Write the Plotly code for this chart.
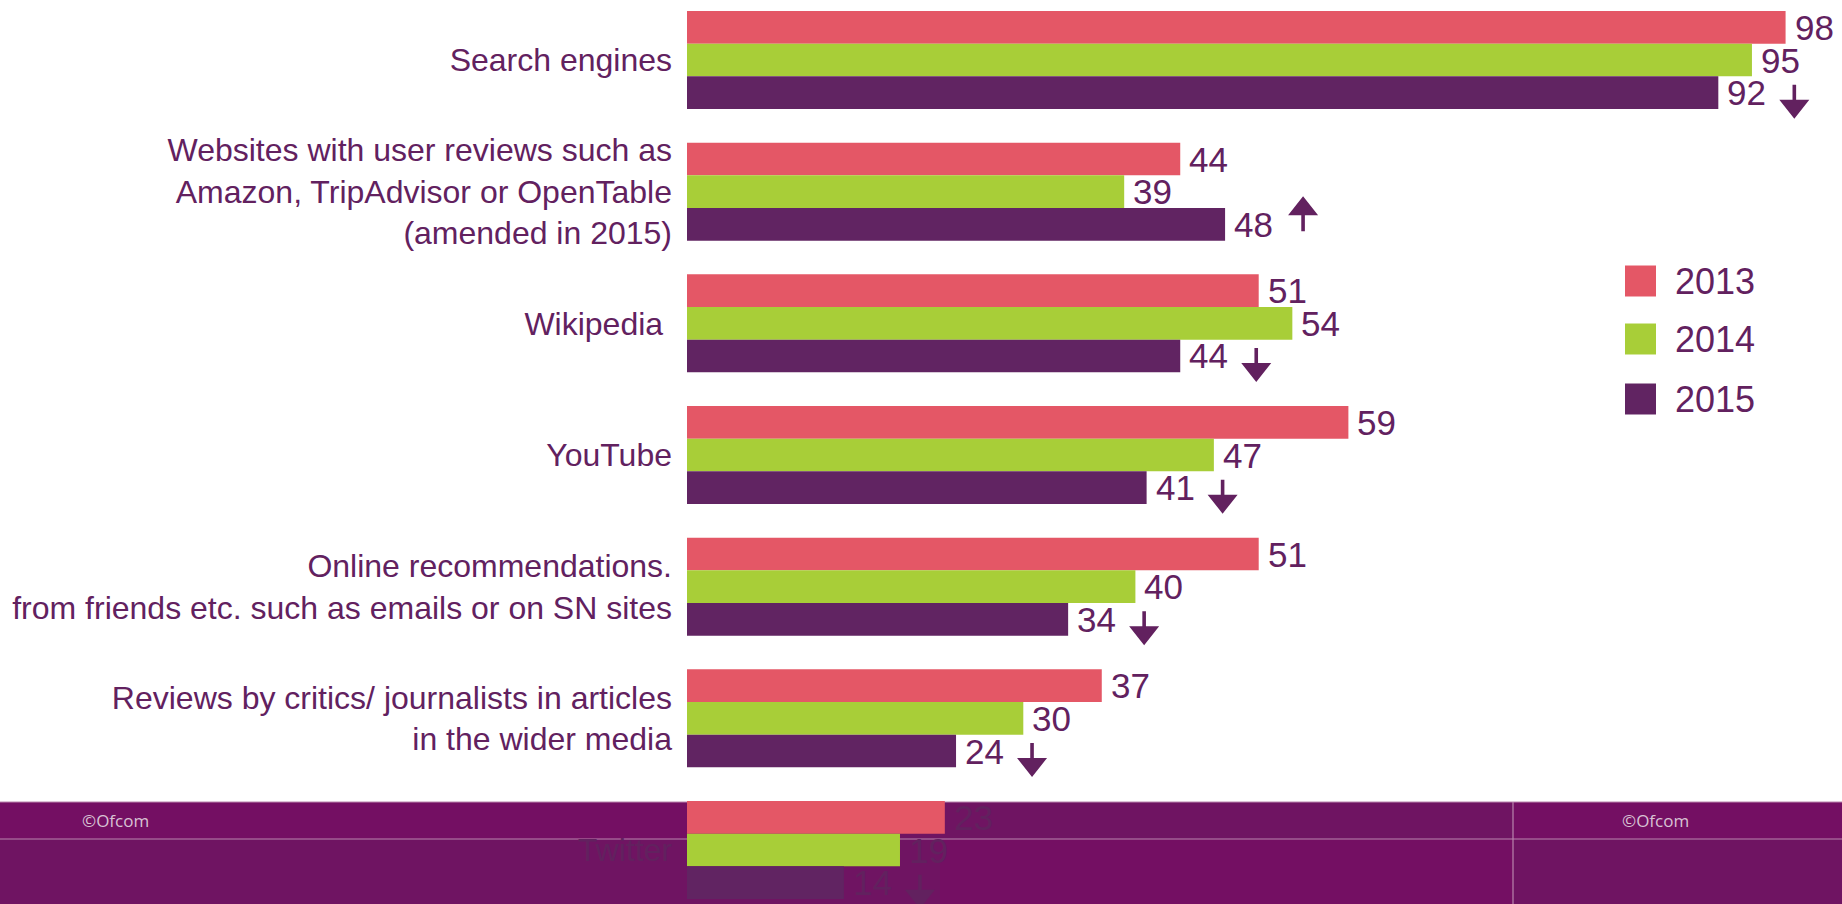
import plotly.graph_objects as go

# ---------------- data ----------------
categories = [
    "Search engines",
    "Websites with user reviews such as<br>Amazon, TripAdvisor or OpenTable<br>(amended in 2015)",
    "Wikipedia ",
    "YouTube",
    "Online recommendations.<br>from friends etc. such as emails or on SN sites",
    "Reviews by critics/ journalists in articles<br>in the wider media",
    "Twitter",
]
years = ["2013", "2014", "2015"]
values_2013 = [98, 44, 51, 59, 51, 37, 23]
values_2014 = [95, 39, 54, 47, 40, 30, 19]
values_2015 = [92, 48, 44, 41, 34, 24, 14]
change_2015 = ["down", "up", "down", "down", "down", "down", "down"]

series = [values_2013, values_2014, values_2015]
colors = ["#E45766", "#A8CE38", "#612462"]
TEXT = "#62215F"
FONT = "Arial, Liberation Sans, sans-serif"

W, H = 1842, 904
X0 = 687            # left edge of plot area (px)
PX_PER_UNIT = 11.21  # horizontal scale
CAT_PX = 131.67      # px per category
TOP_CENTER = 60      # centre of first group (px from top)
BARGAP = 0.256
bar_px = CAT_PX * (1 - BARGAP) / 3

x_max = (W - X0) / PX_PER_UNIT
y_top = -TOP_CENTER / CAT_PX
y_bottom = y_top + H / CAT_PX

fig = go.Figure()
for name, vals, col in zip(years, series, colors):
    fig.add_trace(go.Bar(
        y=categories, x=vals, orientation="h", name=name,
        marker=dict(color=col, line=dict(width=0)),
        showlegend=False, hoverinfo="skip",
    ))

annotations = []
shapes = []
# value labels
for k, vals in enumerate(series):
    for cat, v in zip(categories, vals):
        annotations.append(dict(
            x=v, y=cat, xref="x", yref="y", text=str(v), showarrow=False,
            xanchor="left", yanchor="middle", xshift=7, yshift=(1 - k) * bar_px,
            font=dict(family=FONT, size=35, color=TEXT),
        ))

# change arrows next to 2015 bars (pixel-sized shapes anchored at the bar end)
def arrow_path(cx, tip, base, tail, hw=15, sw=1.8):
    return (f"M{cx - sw},{tail} L{cx + sw},{tail} L{cx + sw},{base} L{cx + hw},{base} "
            f"L{cx},{tip} L{cx - hw},{base} L{cx - sw},{base} Z")

c = -bar_px  # centre of the 2015 bar relative to category centre (pixels, up positive)
for cat, v, d in zip(categories, values_2015, change_2015):
    if d == "down":
        p = arrow_path(76, c - 26, c - 7, c + 8)
    else:
        p = arrow_path(78, c + 28, c + 9, c - 7)
    shapes.append(dict(type="path", xref="x", yref="y",
                       xsizemode="pixel", ysizemode="pixel",
                       xanchor=v, yanchor=cat, path=p,
                       fillcolor=TEXT, line=dict(width=0), layer="above"))

# legend (custom, large squares)
legend_y = [281, 339, 399]
for name, col, ly in zip(years, colors, legend_y):
    shapes.append(dict(type="rect", xref="paper", yref="paper",
                       x0=1625 / W, x1=1656 / W,
                       y0=1 - (ly + 15.5) / H, y1=1 - (ly - 15.5) / H,
                       fillcolor=col, line=dict(width=0), layer="above"))
    annotations.append(dict(x=1673 / W, y=1 - ly / H, xref="paper", yref="paper",
                            text=name, showarrow=False, xanchor="left", yanchor="middle",
                            font=dict(family=FONT, size=36, color=TEXT)))

# footer band (slide chrome overlapping the chart)
SOLID = "#740F63"
TEXTURED = "#6F1462"
def rect(x0, x1, y0, y1, color):
    shapes.append(dict(type="rect", xref="paper", yref="paper",
                       x0=x0 / W, x1=x1 / W, y0=1 - y1 / H, y1=1 - y0 / H,
                       fillcolor=color, line=dict(width=0), layer="below"))
rect(0, X0, 802, 839, SOLID)
rect(X0, 1513, 802, 839, TEXTURED)
rect(1513, W, 802, 839, SOLID)
rect(0, 940, 839, H, TEXTURED)
rect(940, 1513, 839, H, SOLID)
rect(1513, W, 839, H, TEXTURED)
for (x0, x1, y0, y1) in [(0, W, 802, 802), (0, W, 839, 839), (1513, 1513, 802, H)]:
    shapes.append(dict(type="line", xref="paper", yref="paper",
                       x0=x0 / W, x1=x1 / W, y0=1 - y0 / H, y1=1 - y1 / H,
                       line=dict(color="#B985AE", width=1.2), layer="below"))
for fx in [80, 1620]:
    annotations.append(dict(x=fx / W, y=1 - 820 / H, xref="paper", yref="paper",
                            text="©Ofcom", showarrow=False, xanchor="left", yanchor="middle",
                            font=dict(family="Open Sans, Liberation Sans", size=17, color="#D8C2D4")))

fig.update_layout(
    width=W, height=H,
    margin=dict(l=0, r=0, t=0, b=0),
    paper_bgcolor="white", plot_bgcolor="rgba(0,0,0,0)",
    barmode="group", bargap=BARGAP, bargroupgap=0,
    xaxis=dict(domain=[X0 / W, 1], range=[0, x_max], visible=False, automargin=False),
    yaxis=dict(domain=[0, 1], type="category", categoryarray=categories,
               range=[y_bottom, y_top], showgrid=False, zeroline=False, showline=False,
               ticks="", ticklabelstandoff=14, automargin=False,
               tickfont=dict(family=FONT, size=32, color=TEXT)),
    annotations=annotations, shapes=shapes,
    font=dict(family=FONT, color=TEXT),
)

fig.write_html("out.html")
